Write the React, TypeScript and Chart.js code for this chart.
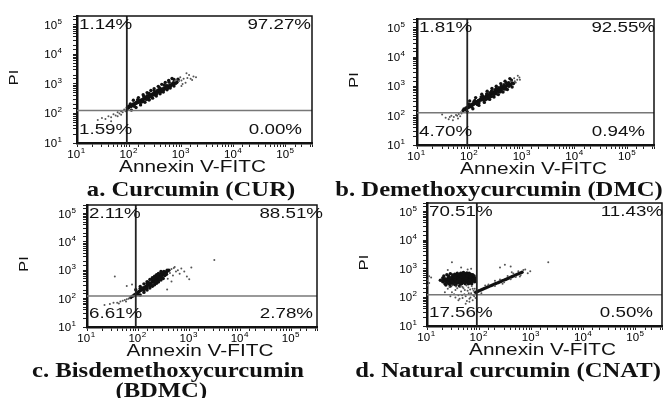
import React, { useEffect, useRef } from "react";
import { Chart, registerables } from "chart.js";
Chart.register(...registerables);

const W = 671;
const H = 398;

// ---- shared axis data ----
const tickExponents = [1, 2, 3, 4, 5];
const xAxisTitle = "Annexin V-FITC";
const yAxisTitle = "PI";
const xMin = 10;
const xMax = 316228;
const yMin = 10;
const yMax = 200000;
const gateX = 90;
const gateY = 125;

// ---- captions ----
const captionA = ["a. Curcumin (CUR)"];
const captionB = ["b. Demethoxycurcumin (DMC)"];
const captionC = ["c. Bisdemethoxycurcumin", "(BDMC)"];
const captionD = ["d. Natural curcumin (CNAT)"];

// ---- quadrant percentages: [upper-left, upper-right, lower-left, lower-right] ----
const quadA = ["1.14%", "97.27%", "1.59%", "0.00%"];
const quadB = ["1.81%", "92.55%", "4.70%", "0.94%"];
const quadC = ["2.11%", "88.51%", "6.61%", "2.78%"];
const quadD = ["70.51%", "11.43%", "17.56%", "0.50%"];

// ---- events (Annexin V-FITC, PI) ----
const curCore: number[][] = [
  [92,160],[95,150],[98,175],[100,165],[104,180],[108,170],[110,190],[114,185],[118,200],[120,210],
  [125,200],[128,220],[132,215],[136,235],[140,225],[145,245],[150,240],[155,260],[160,255],[165,280],
  [170,270],[176,295],[182,290],[188,315],[195,305],[200,340],[208,330],[215,360],[222,350],[230,385],
  [238,370],[246,410],[255,400],[265,440],[275,430],[285,470],[295,455],[305,500],[318,490],[330,540],
  [345,520],[360,580],[375,560],[390,630],[405,610],[420,680],[440,650],[460,730],[480,700],[500,790],
  [520,760],[545,850],[570,820],[600,920],[630,880],[660,1000],[700,960],[740,1080],[780,1050],[820,1150],
  [150,280],[180,250],[220,400],[260,380],[300,430],[350,610],[400,540],[460,640],[520,880],[600,800],
  [700,1100],[240,300],[320,420],[430,580],[550,720],
  [110,130],[120,280],[135,160],[150,345],[165,195],[185,430],[200,240],[220,510],[240,285],[260,600],
  [280,330],[300,690],[330,390],[360,830],[390,465],[420,970],[450,535],[490,1130],[530,630],[570,1320],
  [610,725],[660,1520],[720,850],
  [105,210],[125,175],[145,290],[165,235],[190,375],[215,300],[240,475],[270,380],[300,595],[340,475],
  [380,750],[420,590],[470,930],[520,730],[580,1150],[640,900],[720,1420],[800,1120],[860,1450]
];
const curSparse: number[][] = [
  [900,1250],[1000,1300],[1100,1500],[1300,1600],[1500,1500],[1700,1800],[1200,1100],[950,1700],
  [800,1400],[1400,2000],[1900,1700],[1050,1000],[750,1250],[1600,1350],[1250,2300],[1000,850],
  [25,60],[30,70],[35,65],[40,80],[45,75],[50,95],[55,85],[60,110],[65,100],[70,120],[75,110],
  [80,135],[85,120],[45,55],[60,80],[70,90],[88,140]
];

const dmcCore: number[][] = [
  [75,150],[78,170],[82,160],[85,185],[88,175],[92,200],[95,190],[100,215],[104,205],[108,240],
  [112,230],[116,255],[120,245],[125,280],[130,265],[135,300],[140,290],[146,330],[152,315],[158,360],
  [165,345],[172,390],[180,375],[188,420],[196,400],[205,460],[214,440],[224,500],[234,480],[245,550],
  [256,520],[268,600],[280,570],[293,650],[306,620],[320,710],[335,680],[350,780],[366,740],[383,850],
  [400,810],[420,930],[440,880],[460,1010],[485,960],[510,1100],[540,1050],[570,1200],[600,1150],[640,1300],
  [680,1250],[120,300],[150,270],[180,450],[200,350],[240,600],[260,450],[300,750],[320,560],[360,900],
  [400,700],[450,1150],[480,820],[550,1350],[260,650],[220,380],[330,800],[380,650],[140,240],[170,420],
  [90,135],[100,320],[115,172],[130,415],[150,225],[170,540],[190,285],[215,685],[240,360],[265,845],
  [290,435],[320,1020],[350,525],[390,1245],[430,645],[470,1500],[520,780],[580,1850],[640,960],
  [95,250],[110,200],[125,330],[145,260],[165,435],[185,335],[210,555],[235,425],[260,685],[290,525],
  [320,845],[360,650],[400,1055],[450,810],[500,1320],[560,1010],[620,1640]
];
const dmcSparse: number[][] = [
  [720,1500],[800,1700],[880,2000],[750,1350],[600,1500],[700,1900],[900,1700],[820,2300],
  [35,85],[40,75],[45,100],[50,90],[55,105],[60,80],[62,115],[66,95],[70,120],[48,70],[58,100],
  [68,130],[42,90],[30,110]
];

const bdmcCore: number[][] = [
  [72,110],[76,120],[80,125],[84,135],[88,140],[92,150],[96,160],[100,170],[104,175],[108,190],
  [112,195],[116,210],[120,215],[125,230],[130,240],[135,255],[140,265],[146,280],[152,290],[158,310],
  [165,320],[172,345],[180,360],[188,385],[196,400],[205,430],[214,450],[224,480],[235,510],[246,540],
  [258,580],[270,610],[284,660],[298,690],[312,750],[328,780],[345,850],[362,880],[380,950],[400,1000],
  [110,230],[130,190],[150,350],[170,280],[190,470],[210,360],[230,600],[250,450],[270,720],[290,560],
  [320,900],[340,680],[150,240],[200,480],[260,500],[300,820],[360,720],[220,560],[180,300],[240,620],
  [280,540],[330,650],
  [110,134],[130,166],[150,200],[170,235],[190,272],[210,310],[230,349],[250,389],[280,450],[310,514],
  [90,206],[110,267],[130,332],[150,399],[170,470],[190,543],[210,620],[230,697],[250,777],[280,900],
  [100,140],[120,240],[140,225],[160,370],[180,310],[200,500],[220,400],[240,630],[265,510],[295,840],
  [330,680],[370,1000]
];
const bdmcSparse: number[][] = [
  [450,1100],[500,1200],[550,900],[420,800],[480,650],[600,1000],[700,1150],[800,900],[1000,480],
  [1100,1260],[650,750],[380,500],[370,210],[450,400],[900,600],[3100,2300],[35,600],[76,316],[60,280],
  [520,1300],
  [22,60],[28,65],[33,72],[39,72],[45,80],[50,85],[55,90],[60,95],[65,100],[42,68],[58,80],[68,105]
];

const cnatCore: number[][] = [
  [20,350],[22,300],[24,420],[26,380],[28,330],[30,450],[30,290],[32,400],[34,350],[36,500],
  [36,270],[38,430],[40,360],[40,550],[42,310],[44,470],[45,400],[46,620],[48,340],[48,520],
  [50,440],[52,380],[52,580],[54,300],[55,480],[56,680],[58,420],[58,350],[60,530],[62,460],
  [62,300],[64,600],[65,390],[66,500],[68,440],[70,350],[70,560],[72,470],[74,400],[75,620],
  [78,500],[80,430],[82,350],[38,600],[44,700],[34,280],[26,500],[28,250],[50,750],[60,680],
  [66,320],[25,460],[32,560],[42,250],[56,420],[46,300],[54,400],[36,380],[64,360],[72,300],
  [84,420],[18,400],[20,480],[23,270],
  [20,400],[21,560],[22,450],[24,340],[24,620],[26,300],[26,560],[27,420],[28,680],[29,370],
  [30,520],[31,610],[32,330],[33,470],[34,650],[35,420],[36,560],[37,320],[38,700],[39,480],
  [40,400],[41,620],[42,520],[43,370],[44,560],[45,300],[46,450],[47,700],[48,420],[49,600],
  [50,330],[51,500],[52,680],[53,440],[54,560],[55,350],[56,620],[57,500],[58,720],[59,380],
  [60,450],[61,600],[62,400],[63,520],[64,700],[65,330],[66,580],[67,450],[68,650],[69,380],
  [70,500],[71,420],[72,600],[73,350],[74,520],[76,450],[78,380],[80,560],[82,480],[22,380],
  [28,480],[34,520],[46,520],[56,470],[66,420],[44,410],[38,360],[52,330],[62,650],[30,360],
  [42,430],[50,560],[58,560],[68,520],
  [85,150],[90,158],[95,165],[100,172],[108,182],[116,193],[125,205],[135,217],[145,230],[156,243],
  [168,258],[180,272],[194,288],[208,305],[224,322],[240,340],[258,360],[278,382],[298,403],[320,425],
  [345,450],[370,475],[400,510],[430,540],[465,575],[500,610],[540,650],[580,690],[620,720],[660,760]
];
const cnatSparse: number[][] = [
  [25,200],[30,150],[35,180],[40,120],[45,160],[50,210],[55,110],[60,170],[65,90],[70,140],
  [75,200],[80,110],[42,90],[52,130],[58,75],[68,100],[35,100],[48,230],[62,220],[78,170],
  [28,110],[85,95],[22,150],[27,230],[33,130],[38,210],[44,240],[47,120],[53,180],[57,260],
  [63,140],[67,190],[72,250],[77,120],[82,200],[30,260],[40,80],[55,60],[65,70],[75,80],
  [48,95],[36,240],
  [150,280],[200,250],[250,420],[300,340],[350,560],[400,430],[450,680],[500,520],[560,820],
  [620,600],[700,900],[760,950],[420,760],[200,380],[130,260],[110,140],[280,300],[600,540],
  [850,700],[950,820],[310,1400],[250,1100],[400,1200],[2100,1700],
  [30,1700],[45,1100],[60,950],[25,900],[70,1000],
  [10,400],[11,320],[12,500],[10,260],[11,550]
];

// ---- layout (page pixels) ----
type Panel = {
  core: number[][];
  sparse: number[][];
  quad: string[];
  caption: string[];
  box: { l: number; t: number; r: number; b: number };
  trDx: number;
  brDx: number;
  yLabDx: number;
  capTop: number;
  capCx: number;
  capLh: number;
};

const panels: Panel[] = [
  { core: curCore, sparse: curSparse, quad: quadA, caption: captionA, box: { l: 77, t: 16, r: 312, b: 143 }, trDx: -1, brDx: -10, yLabDx: -15, capTop: 178, capCx: 191, capLh: 22 },
  { core: dmcCore, sparse: dmcSparse, quad: quadB, caption: captionB, box: { l: 417, t: 19, r: 654, b: 145 }, trDx: 1, brDx: -9, yLabDx: -12, capTop: 178, capCx: 499, capLh: 22 },
  { core: bdmcCore, sparse: bdmcSparse, quad: quadC, caption: captionC, box: { l: 87, t: 205, r: 317, b: 327 }, trDx: 6, brDx: -4, yLabDx: -11, capTop: 360, capCx: 168, capLh: 20 },
  { core: cnatCore, sparse: cnatSparse, quad: quadD, caption: captionD, box: { l: 427, t: 203, r: 662, b: 326 }, trDx: 1, brDx: -9, yLabDx: -10, capTop: 359, capCx: 508, capLh: 22 },
];

const SANS = "'Liberation Sans', Arial, sans-serif";

function stretchText(ctx: CanvasRenderingContext2D, s: string, x: number, y: number, align: CanvasTextAlign, sx: number) {
  ctx.save();
  ctx.translate(x, y);
  ctx.scale(sx, 1);
  ctx.textAlign = align;
  ctx.fillText(s, 0, 0);
  ctx.restore();
}

const facsPlugin = {
  id: "facs",
  afterDatasetsDraw(chart: any, _args: any, opts: any) {
    const { ctx, chartArea: a, scales } = chart;
    const xs = scales.x;
    const ys = scales.y;
    ctx.save();
    // gates
    const gx = xs.getPixelForValue(gateX);
    const gy = ys.getPixelForValue(gateY);
    ctx.strokeStyle = "#777";
    ctx.lineWidth = 1.5;
    ctx.beginPath();
    ctx.moveTo(a.left, gy);
    ctx.lineTo(a.right, gy);
    ctx.stroke();
    ctx.strokeStyle = "#222";
    ctx.lineWidth = 1.8;
    ctx.beginPath();
    ctx.moveTo(gx, a.top);
    ctx.lineTo(gx, a.bottom);
    ctx.stroke();
    // top & right frame
    ctx.strokeStyle = "#111";
    ctx.lineWidth = 1.5;
    ctx.beginPath();
    ctx.moveTo(a.left, a.top);
    ctx.lineTo(a.right, a.top);
    ctx.lineTo(a.right, a.bottom);
    ctx.stroke();

    // quadrant percentages
    const q: string[] = opts.quad;
    ctx.fillStyle = "#111";
    ctx.font = `15px ${SANS}`;
    ctx.textBaseline = "middle";
    stretchText(ctx, q[0], a.left + 2, a.top + 9, "left", 1.25);
    stretchText(ctx, q[1], a.right + opts.trDx, a.top + 9, "right", 1.25);
    stretchText(ctx, q[2], a.left + 2, a.bottom - 13, "left", 1.25);
    stretchText(ctx, q[3], a.right + opts.brDx, a.bottom - 13, "right", 1.25);

    // tick labels 10^n
    ctx.textBaseline = "alphabetic";
    ctx.fillStyle = "#000";
    for (const e of tickExponents) {
      const v = Math.pow(10, e);
      const base = "10";
      const ex = String(e);
      ctx.font = `10px ${SANS}`;
      const w1 = ctx.measureText(base).width * 1.15;
      ctx.font = `7px ${SANS}`;
      const w2 = ctx.measureText(ex).width * 1.15;
      // x axis
      const px = xs.getPixelForValue(v);
      const start = px - (w1 + w2) / 2 - 1;
      ctx.font = `10px ${SANS}`;
      stretchText(ctx, base, start, a.bottom + 15, "left", 1.15);
      ctx.font = `7px ${SANS}`;
      stretchText(ctx, ex, start + w1 + 0.5, a.bottom + 10, "left", 1.15);
      // y axis
      const py = ys.getPixelForValue(v);
      const right = a.left + opts.yLabDx;
      ctx.font = `7px ${SANS}`;
      stretchText(ctx, ex, right, py - 1, "right", 1.15);
      ctx.font = `10px ${SANS}`;
      stretchText(ctx, base, right - w2 - 0.5, py + 4, "right", 1.15);
    }

    // axis titles
    ctx.fillStyle = "#111";
    ctx.font = `16px ${SANS}`;
    ctx.textBaseline = "middle";
    stretchText(ctx, xAxisTitle, (a.left + a.right) / 2 - 2, a.bottom + 25, "center", 1.3);
    ctx.save();
    ctx.translate(a.left - 62, (a.top + a.bottom) / 2 - 2);
    ctx.rotate(-Math.PI / 2);
    ctx.scale(1.35, 1);
    ctx.font = `12px ${SANS}`;
    ctx.textAlign = "center";
    ctx.fillText(yAxisTitle, 0, 0);
    ctx.restore();
    ctx.restore();
  },
};

function FacsChart({ panel }: { panel: Panel }) {
  const ref = useRef<HTMLCanvasElement | null>(null);
  useEffect(() => {
    if (!ref.current) return;
    const { box } = panel;
    const axisOpts = (isX: boolean) => ({
      type: "logarithmic" as const,
      min: isX ? xMin : yMin,
      max: isX ? xMax : yMax,
      afterFit: (s: any) => {
        if (isX) s.height = 5;
        else s.width = 5;
      },
      ticks: { display: false },
      grid: { drawOnChartArea: false, drawTicks: true, tickLength: 4, color: "#222", lineWidth: 1 },
      border: { display: true, color: "#111", width: 2.5 },
    });
    const chart = new Chart(ref.current, {
      type: "scatter",
      data: {
        datasets: [
          {
            data: panel.sparse.map(([x, y]) => ({ x, y })),
            pointRadius: 1,
            pointBackgroundColor: "#555",
            pointBorderWidth: 0,
            showLine: false,
          },
          {
            data: panel.core.map(([x, y]) => ({ x, y })),
            pointRadius: 1.7,
            pointBackgroundColor: "#111",
            pointBorderWidth: 0,
            showLine: false,
          },
        ],
      },
      options: {
        responsive: false,
        animation: false,
        events: [],
        layout: {
          padding: { left: box.l - 5, top: box.t, right: W - box.r, bottom: H - box.b - 5 },
        },
        plugins: {
          legend: { display: false },
          tooltip: { enabled: false },
          // @ts-ignore
          facs: { quad: panel.quad, trDx: panel.trDx, brDx: panel.brDx, yLabDx: panel.yLabDx },
        },
        scales: { x: axisOpts(true), y: axisOpts(false) } as any,
      },
      plugins: [facsPlugin],
    });
    return () => chart.destroy();
  }, [panel]);
  return (
    <canvas
      ref={ref}
      width={W}
      height={H}
      style={{ position: "absolute", left: 0, top: 0, width: W, height: H }}
    />
  );
}

export default function App() {
  return (
    <div style={{ position: "absolute", left: 0, top: 0, width: W, height: H, background: "#fff", overflow: "hidden" }}>
      {panels.map((p, i) => (
        <FacsChart key={i} panel={p} />
      ))}
      {panels.map((p, i) => (
        <div
          key={"c" + i}
          style={{
            position: "absolute",
            left: p.capCx - 200,
            top: p.capTop,
            width: 400,
            textAlign: "center",
            fontFamily: "'Liberation Serif', 'Times New Roman', serif",
            fontWeight: "bold",
            fontSize: 22,
            lineHeight: p.capLh + "px",
            color: "#111",
            transform: "scaleX(1.12)",
            whiteSpace: "nowrap",
          }}
        >
          {p.caption.map((line, j) => (
            <div key={j} style={j > 0 ? { marginRight: 12 } : undefined}>{line}</div>
          ))}
        </div>
      ))}
    </div>
  );
}
